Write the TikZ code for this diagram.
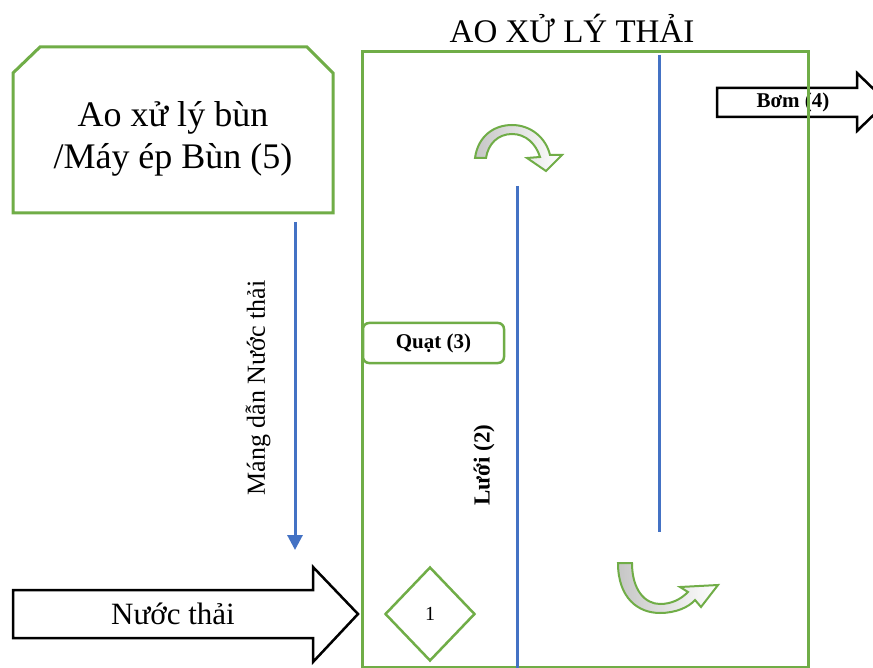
\documentclass[tikz,border=0pt]{standalone}
\usepackage{fontspec}
\setmainfont{Liberation Serif}
\usetikzlibrary{arrows.meta,shapes.geometric}
\definecolor{wgreen}{HTML}{70AD47}
\definecolor{wblue}{HTML}{4472C4}
\tikzset{
  greenline/.style={draw=wgreen, line width=3pt},
  blueline/.style={draw=wblue, line width=3pt},
  blockarrow/.style={draw=black, line width=2.5pt, fill=white, line join=miter},
  curvearrow/.style={draw=wgreen, line width=2pt, line join=miter, left color=gray!45, right color=white},
  fsize/.style={font=\fontsize{#1}{#1}\selectfont},
  bfsize/.style={font=\fontsize{#1}{#1}\selectfont\bfseries},
}
\begin{document}
\begin{tikzpicture}[x=1pt,y=-1pt]
\clip (0,0) rectangle (873,668);
\fill[white] (0,0) rectangle (873,668);

% title over the pond
\node[fsize=33, anchor=base, inner sep=0pt] (title) at (572,43) {AO XỬ LÝ THẢI};

% sludge pond / press box with chamfered top corners
\draw[greenline] (13,213) -- (13,73) -- (40,47) -- (307,47) -- (333,73) -- (333,213) -- cycle;
\node[align=center, inner sep=0pt, font=\fontsize{36}{42}\selectfont] (box5) at (173,139) {Ao xử lý bùn\\/Máy ép Bùn (5)};

% waste-water channel
\coordinate (mangtop) at (295,222);
\coordinate (mangend) at (295,550);
\draw[blueline, -{Triangle[width=15pt,length=15pt]}] (mangtop) -- (mangend);
\node[fsize=26, rotate=90, inner sep=0pt] (mang) at (258,388) {Máng dẫn Nước thải};

% inflow arrow
\draw[blockarrow] (13,590) -- (313,590) -- (313,567) -- (358,614) -- (313,662) -- (313,638) -- (13,638) -- cycle;
\node[fsize=31, inner sep=0pt] (nuocthai) at (173,614) {Nước thải};

% pump outflow arrow
\draw[blockarrow] (717,88) -- (857,88) -- (857,73) -- (887,102) -- (857,131) -- (857,117) -- (717,117) -- cycle;
\node[bfsize=21, inner sep=0pt] (bom) at (793,102) {Bơm (4)};

% treatment pond
\node[greenline, minimum width=446pt, minimum height=615pt, inner sep=0pt] (pond) at (585,359.5) {};

% screens
\coordinate (l1top) at (517,186);
\coordinate (l1bot) at (517,670);
\draw[blueline] (l1top) -- (l1bot);
\coordinate (l2top) at (659,55);
\coordinate (l2bot) at (659,532);
\draw[blueline] (l2top) -- (l2bot);
\node[bfsize=23, rotate=90, inner sep=0pt] (luoi) at (484,465) {Lưới (2)};

% aerator
\node[draw=wgreen, line width=2.5pt, rounded corners=6pt, minimum width=141pt, minimum height=40pt, fill=white, bfsize=21] (quat) at (433.5,343) {Quạt (3)};

% inlet marker
\node[diamond, draw=wgreen, line width=2.5pt, minimum width=90pt, minimum height=94pt, inner sep=0pt, fsize=20] (d1) at (430,614) {1};

% flow direction arrows
\draw[curvearrow] (475,158) .. controls (478,136) and (494,125) .. (512,125)
  .. controls (531,125) and (546,138) .. (550,155) -- (562,155) -- (546,171) -- (527,158) -- (540,157)
  .. controls (536,144) and (526,134) .. (512,134)
  .. controls (498,134) and (488,144) .. (486,158) -- cycle;
\draw[curvearrow] (618,563) .. controls (618,598) and (638,613) .. (660,613)
  .. controls (676,613) and (689,607) .. (695,600) -- (701,607) -- (718,585) -- (680,587) -- (688,592)
  .. controls (681,599) and (672,604) .. (660,604)
  .. controls (645,604) and (632,590) .. (632,563) -- cycle;
\end{tikzpicture}
\end{document}
